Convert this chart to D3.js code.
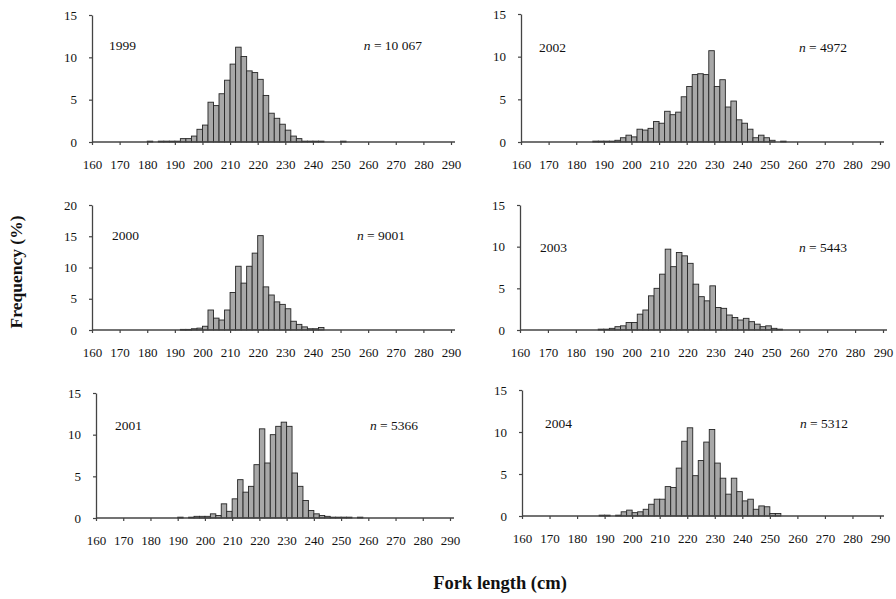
<!DOCTYPE html>
<html>
<head>
<meta charset="utf-8">
<script src="https://cdn.jsdelivr.net/npm/d3@7"></script>
<style>
  body { margin: 0; background: #fff; }
  text { font-family: "Liberation Serif", "Times New Roman", serif; fill: #111; }
</style>
</head>
<body>
<div id="graf"></div>
<script>
// lower edge of each 2 cm bin
const bins = [180,182,184,186,188,190,192,194,196,198,200,202,204,206,208,210,212,214,216,218,
              220,222,224,226,228,230,232,234,236,238,240,242,244,246,248,250,252,254,256,258]

const f1999 = [0.1,0,0.1,0.1,0.1,0.1,0.4,0.4,0.7,1.5, 2.0,4.7,4.3,5.7,7.3,9.2,11.2,10.1,8.4,8.2,
               7.4,5.5,3.4,2.8,2.1,1.4,0.7,0.4,0.1,0.1, 0.1,0.1,0,0,0,0.1,0,0,0,0]
const f2000 = [0,0,0,0,0,0,0.1,0.1,0.2,0.3, 0.6,3.2,1.9,1.6,3.2,6.0,10.2,7.5,10.2,12.3,
               15.1,6.9,5.6,4.5,4.1,3.4,1.4,0.9,0.5,0.2, 0.2,0.4,0,0,0,0,0,0,0,0]
const f2001 = [0,0,0,0,0,0.1,0,0.1,0.2,0.2, 0.2,0.5,0.3,1.7,0.8,2.3,4.6,3.1,3.8,6.4,
               10.7,6.6,10.0,11.0,11.5,11.0,5.4,3.8,2.1,0.9, 0.5,0.3,0.2,0.1,0.1,0.1,0.1,0,0.1,0]
const f2002 = [0,0,0,0.1,0.1,0.1,0.1,0.2,0.5,0.8, 0.6,1.5,1.4,1.6,2.4,2.2,3.6,3.2,3.5,5.3,
               6.5,7.9,8.0,7.9,10.7,6.5,7.3,4.1,4.8,2.6, 2.2,1.5,0.5,0.8,0.5,0.2,0,0.1,0,0]
const f2003 = [0,0,0,0,0.1,0.1,0.2,0.4,0.5,0.9, 0.9,1.9,2.4,4.1,5.0,6.7,9.7,7.6,9.3,8.9,
               8.0,5.5,4.0,3.5,5.3,2.7,2.6,1.8,1.5,1.2, 1.4,1.0,0.7,0.4,0.5,0.2,0.1,0,0,0]
const f2004 = [0,0,0,0,0.1,0.1,0,0.1,0.5,0.7, 0.4,0.5,0.8,1.4,2.0,2.0,3.5,3.4,5.7,8.9,
               10.5,4.8,6.6,8.8,10.3,6.3,4.5,2.6,4.5,2.9, 1.8,2.0,0.8,1.2,1.1,0.3,0.3,0,0,0]

const years = ['1999', '2000', '2001', '2002', '2003', '2004']
const counts = ['10 067', '9001', '5366', '4972', '5443', '5312']
const yMaxes = [15, 20, 15, 15, 15, 15]
const xTicks = [160,170,180,190,200,210,220,230,240,250,260,270,280,290]

const series = [f1999, f2000, f2001, f2002, f2003, f2004]

// panel placement: x of 160 and 290, y of 0 and top, label row
const layout = [
  { x0: 92,  x1: 451, y0: 142, yT: 15,  ly: 45,  lx: 17, rx: 29 },
  { x0: 92,  x1: 451, y0: 330, yT: 205, ly: 235, lx: 20, rx: 46 },
  { x0: 96,  x1: 450, y0: 518, yT: 393, ly: 425, lx: 19, rx: 32 },
  { x0: 521, x1: 880, y0: 142, yT: 14,  ly: 47,  lx: 18, rx: 33 },
  { x0: 520, x1: 883, y0: 330, yT: 205, ly: 247, lx: 20, rx: 36 },
  { x0: 522, x1: 880, y0: 516, yT: 390, ly: 423, lx: 23, rx: 32 },
]

const svg = d3.select('#graf').append('svg')
    .attr('width', 896)
    .attr('height', 599)

layout.forEach((p, i) => {
    const x = d3.scaleLinear().domain([160, 290]).range([p.x0, p.x1])
    const y = d3.scaleLinear().domain([0, yMaxes[i]]).range([p.y0, p.yT])
    const g = svg.append('g')

    const rows = bins.map((b, k) => ({ b, v: series[i][k] })).filter(d => d.v > 0)

    g.selectAll('rect')
        .data(rows)
        .enter()
        .append('rect')
        .attr('x', d => x(d.b))
        .attr('width', d => x(d.b + 2) - x(d.b))
        .attr('y', d => y(d.v))
        .attr('height', d => Math.max(0.8, y(0) - y(d.v)))
        .attr('fill', '#a8a8a8')
        .attr('stroke', '#262626')
        .attr('stroke-width', 0.9)

    const ax = g.append('g')
        .attr('transform', `translate(0,${p.y0})`)
        .call(d3.axisBottom(x).tickValues(xTicks).tickSize(3).tickPadding(15).tickSizeOuter(0))
    ax.select('.domain').attr('d', `M${p.x0},0H${p.x1 + 4}`)

    g.append('g')
        .attr('transform', `translate(${p.x0},0)`)
        .call(d3.axisLeft(y).ticks(yMaxes[i] / 5).tickSize(3).tickPadding(12).tickSizeOuter(0))

    g.selectAll('.domain').attr('stroke', '#444').attr('stroke-width', 1.3)
    g.selectAll('.tick line').attr('stroke', '#444').attr('stroke-width', 1.2)
    g.selectAll('.tick text')
        .style('font-family', '"Liberation Serif", serif')
        .style('font-size', '13px')
        .attr('fill', '#111')

    g.append('text')
        .attr('x', p.x0 + p.lx)
        .attr('y', p.ly)
        .attr('dy', '0.35em')
        .style('font-size', '13.5px')
        .text(years[i])

    const nt = g.append('text')
        .attr('x', p.x1 - p.rx)
        .attr('y', p.ly)
        .attr('dy', '0.35em')
        .attr('text-anchor', 'end')
        .style('font-size', '13.5px')
    nt.append('tspan').style('font-style', 'italic').text('n')
    nt.append('tspan').text(' = ' + counts[i])
})

svg.append('text')
    .attr('transform', 'translate(16,272) rotate(-90)')
    .attr('text-anchor', 'middle')
    .attr('dy', '0.35em')
    .style('font-size', '17.5px')
    .style('font-weight', 'bold')
    .text('Frequency (%)')

svg.append('text')
    .attr('x', 500)
    .attr('y', 583)
    .attr('text-anchor', 'middle')
    .attr('dy', '0.35em')
    .style('font-size', '18.5px')
    .style('font-weight', 'bold')
    .text('Fork length (cm)')
</script>
</body>
</html>
